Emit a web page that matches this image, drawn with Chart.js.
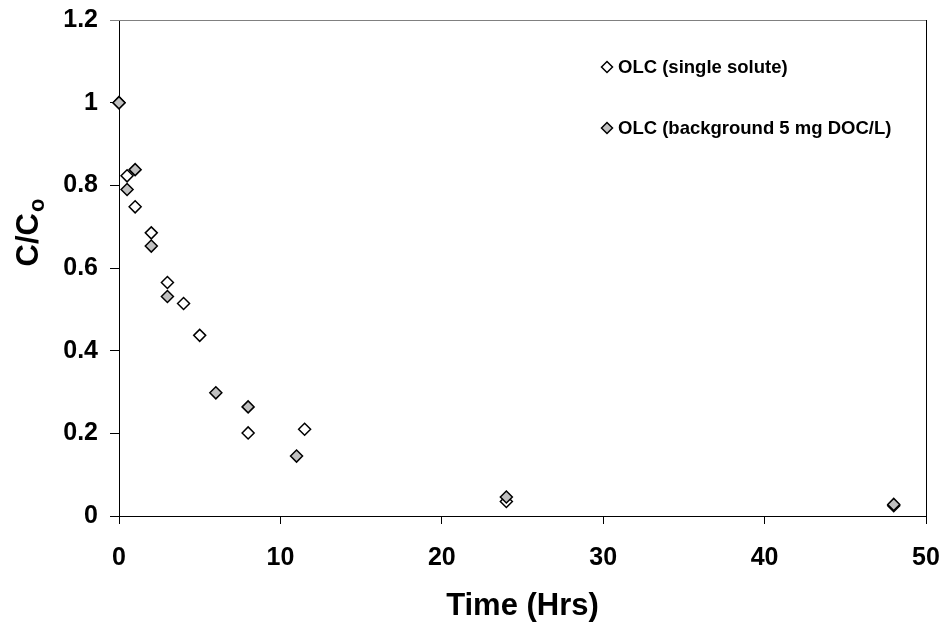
<!DOCTYPE html>
<html>
<head>
<meta charset="utf-8">
<script src="https://cdn.jsdelivr.net/npm/chart.js@4"></script>
<style>
  html, body { margin: 0; padding: 0; background: #fff; }
  #wrap { width: 945px; height: 628px; }
</style>
</head>
<body>
<div id="wrap"><canvas id="olcChart" width="945" height="628"></canvas></div>
<script>
// sampling times (h) and normalised concentrations
const hoursSingle = [0, 0.5, 1, 2, 3, 4, 5, 8, 11.5, 24, 48];
const ratioSingle = [1.0, 0.823, 0.748, 0.685, 0.565, 0.514, 0.437, 0.201, 0.21, 0.035, 0.025];

const hoursBackground = [0, 0.5, 1, 2, 3, 6, 8, 11, 24, 48];
const ratioBackground = [1.0, 0.79, 0.838, 0.653, 0.531, 0.298, 0.264, 0.145, 0.046, 0.028];

const seriesLabels = ['OLC (single solute)', 'OLC (background 5 mg DOC/L)'];
const seriesFills = ['#ffffff', '#c0c0c0'];

const xTicks = [0, 10, 20, 30, 40, 50];
const yTicks = [0, 0.2, 0.4, 0.6, 0.8, 1, 1.2];

const FONT = '"Liberation Sans", Arial, sans-serif';

const toPoints = (xs, ys) => xs.map((x, i) => ({ x, y: ys[i] }));

// box edges that the axes don't draw: grey top line, black right line
const frameLines = {
  id: 'frameLines',
  afterDraw(chart) {
    const { ctx, chartArea: a } = chart;
    ctx.save();
    ctx.lineWidth = 1;
    ctx.strokeStyle = '#808080';
    ctx.beginPath();
    ctx.moveTo(a.left - 9, a.top + 0.5);
    ctx.lineTo(a.right, a.top + 0.5);
    ctx.stroke();
    ctx.strokeStyle = '#000';
    ctx.beginPath();
    ctx.moveTo(a.right + 0.5, a.top);
    ctx.lineTo(a.right + 0.5, a.bottom);
    ctx.stroke();
    ctx.restore();
  }
};

// y title with subscript "o"
const yTitle = {
  id: 'yTitle',
  afterDraw(chart) {
    const { ctx, chartArea: a } = chart;
    const big = 'bold 31px ' + FONT;
    const small = 'bold 22px ' + FONT;
    ctx.save();
    ctx.font = big;
    const w1 = ctx.measureText('C/C').width;
    ctx.font = small;
    const w2 = ctx.measureText('o').width;
    const cy = (a.top + a.bottom) / 2 - 35;
    ctx.translate(38, cy);
    ctx.rotate(-Math.PI / 2);
    ctx.fillStyle = '#000';
    ctx.textBaseline = 'alphabetic';
    ctx.textAlign = 'left';
    const start = -(w1 + w2) / 2;
    ctx.font = big;
    ctx.fillText('C/C', start, 0);
    ctx.font = small;
    ctx.fillText('o', start + w1 + 1, 6);
    ctx.restore();
  }
};

// legend placed inside the plot, upper right
const insideLegend = {
  id: 'insideLegend',
  afterDraw(chart) {
    const { ctx, chartArea: a } = chart;
    ctx.save();
    ctx.font = 'bold 18.5px ' + FONT;
    ctx.textBaseline = 'middle';
    ctx.textAlign = 'left';
    chart.data.datasets.forEach((ds, i) => {
      const x = a.right - 319;
      const y = a.top + 47 + i * 61;
      ctx.fillStyle = ds.backgroundColor;
      ctx.strokeStyle = ds.borderColor;
      Chart.helpers.drawPoint(ctx, { pointStyle: 'rectRot', radius: 5.5, borderWidth: 1.3, rotation: 0 }, x, y);
      ctx.fillStyle = '#000';
      ctx.fillText(ds.label, x + 11, y + 1);
    });
    ctx.restore();
  }
};

const ctx = document.getElementById('olcChart').getContext('2d');
new Chart(ctx, {
  type: 'scatter',
  data: {
    datasets: [
      {
        label: seriesLabels[0],
        data: toPoints(hoursSingle, ratioSingle),
        backgroundColor: seriesFills[0],
        borderColor: '#000',
        borderWidth: 1.5,
        pointStyle: 'rectRot',
        pointRadius: 6,
        clip: false,
        order: 1
      },
      {
        label: seriesLabels[1],
        data: toPoints(hoursBackground, ratioBackground),
        backgroundColor: seriesFills[1],
        borderColor: '#000',
        borderWidth: 1.5,
        pointStyle: 'rectRot',
        pointRadius: 6,
        clip: false,
        order: 0
      }
    ]
  },
  options: {
    responsive: false,
    animation: false,
    devicePixelRatio: 1,
    layout: { padding: { top: 20, right: 19, left: 0, bottom: 0 } },
    plugins: {
      legend: { display: false },
      tooltip: { enabled: false }
    },
    scales: {
      x: {
        type: 'linear',
        min: xTicks[0],
        max: xTicks[xTicks.length - 1],
        afterBuildTicks: (s) => { s.ticks = xTicks.map(v => ({ value: v })); },
        afterFit: (s) => { s.height = 112; s.paddingLeft = 0; s.paddingRight = 0; },
        ticks: {
          color: '#000',
          font: { family: FONT, size: 25, weight: 'bold' },
          padding: 19,
          maxRotation: 0
        },
        grid: { drawOnChartArea: false, tickLength: 8, tickColor: '#000', tickWidth: 1 },
        border: { color: '#000', width: 1 },
        title: {
          display: true,
          text: 'Time (Hrs)',
          color: '#000',
          font: { family: FONT, size: 31, weight: 'bold' },
          padding: { top: 0, bottom: 3 }
        }
      },
      y: {
        min: yTicks[0],
        max: yTicks[yTicks.length - 1],
        afterBuildTicks: (s) => { s.ticks = yTicks.map(v => ({ value: v })); },
        afterFit: (s) => { s.width = 119; s.paddingTop = 0; s.paddingBottom = 0; },
        ticks: {
          color: '#000',
          font: { family: FONT, size: 25, weight: 'bold' },
          padding: 12,
          callback: (v) => String(Number(v.toFixed(1)))
        },
        grid: { drawOnChartArea: false, tickLength: 9, tickColor: '#000', tickWidth: 1 },
        border: { color: '#000', width: 1 }
      }
    }
  },
  plugins: [frameLines, yTitle, insideLegend]
});
</script>
</body>
</html>
